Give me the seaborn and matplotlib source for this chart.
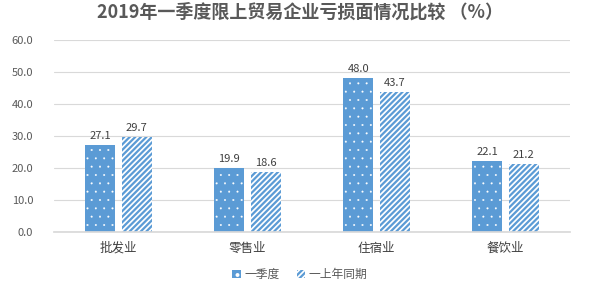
import matplotlib
matplotlib.use("Agg")
import matplotlib.pyplot as plt
import seaborn as sns
import pandas as pd
from matplotlib.patches import Patch

categories = ["批发业", "零售业", "住宿业", "餐饮业"]
series_names = ["一季度", "一上年同期"]
q1_values = [27.1, 19.9, 48.0, 22.1]
prev_values = [29.7, 18.6, 43.7, 21.2]

sns.set_theme(style="white")
plt.rcParams['font.family'] = ['Noto Sans CJK SC', 'DejaVu Sans']
plt.rcParams['hatch.linewidth'] = 1.6

df = pd.DataFrame({
    "cat": categories * 2,
    "series": [series_names[0]] * 4 + [series_names[1]] * 4,
    "val": q1_values + prev_values,
})

blue = "#5B9BD5"
fig, ax = plt.subplots(figsize=(6, 2.89), dpi=100)
fig.subplots_adjust(left=0.09, right=0.95, top=0.862, bottom=0.197)

sns.barplot(data=df, x="cat", y="val", hue="series", order=categories,
            hue_order=series_names, palette=[blue, "white"], width=0.56,
            gap=0.167, ax=ax, legend=False, saturation=1)

n = len(categories)
dot_hatch = ".."
for i, p in enumerate(ax.patches[:2 * n]):
    p.set_linewidth(0)
    if i < n:
        p.set_facecolor(blue)
        p.set_edgecolor("white")
        p.set_hatch(dot_hatch)
        try:
            p.set_hatch_linewidth(0.2)
        except Exception:
            pass
    else:
        p.set_facecolor("white")
        p.set_edgecolor(blue)
        p.set_hatch("//////")

for c in ax.containers:
    ax.bar_label(c, fmt="%.1f", padding=3, fontsize=8, color="#404040")

ax.set_ylim(0, 60)
ax.set_yticks([0, 10, 20, 30, 40, 50, 60])
ax.set_yticklabels([f"{v:.1f}" for v in [0, 10, 20, 30, 40, 50, 60]],
                   fontsize=8, color="#595959")
ax.tick_params(axis='x', labelsize=9, colors="#404040", length=0, pad=7)
ax.tick_params(axis='y', length=0, pad=15)
ax.set_xlabel("")
ax.set_ylabel("")
ax.set_xlim(-0.5, n - 0.5)
ax.yaxis.grid(True, color="#D9D9D9", linewidth=0.8)
ax.set_axisbelow(True)
for s in ["top", "right", "left"]:
    ax.spines[s].set_visible(False)
ax.spines["bottom"].set_color("#D9D9D9")

fig.suptitle("2019年一季度限上贸易企业亏损面情况比较 （%）", fontsize=13,
             fontweight="bold", color="#595959", y=0.99)

leg_dot = Patch(facecolor=blue, edgecolor="white", hatch=dot_hatch, linewidth=0)
handles = [leg_dot,
           Patch(facecolor="white", edgecolor=blue, hatch="//////", linewidth=0)]
fig.legend(handles, series_names, loc="lower center", ncol=2, frameon=False,
           fontsize=8.5, handlelength=0.7, handleheight=0.7, columnspacing=1.5,
           handletextpad=0.3, bbox_to_anchor=(0.5, -0.01), labelcolor="#595959")

fig.savefig("out.png", dpi=100)
